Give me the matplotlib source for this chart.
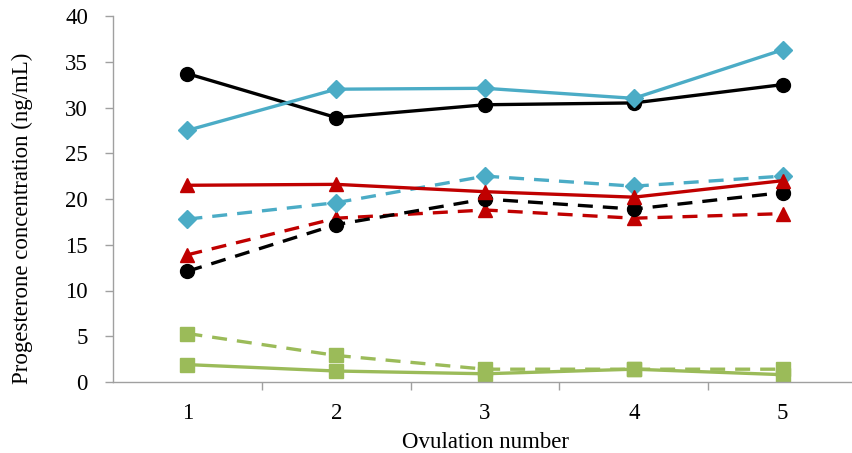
import matplotlib
matplotlib.use("Agg")
import matplotlib.pyplot as plt

ovulation = [1, 2, 3, 4, 5]
black_solid = [33.7, 28.9, 30.3, 30.5, 32.5]
cyan_solid = [27.5, 32.0, 32.1, 31.0, 36.3]
red_solid = [21.5, 21.6, 20.8, 20.2, 22.0]
cyan_dashed = [17.8, 19.6, 22.5, 21.4, 22.5]
black_dashed = [12.1, 17.2, 20.0, 18.9, 20.7]
red_dashed = [13.9, 17.9, 18.8, 17.9, 18.4]
green_dashed = [5.3, 2.9, 1.4, 1.4, 1.4]
green_solid = [1.9, 1.2, 0.9, 1.4, 0.8]
yticks = [0, 5, 10, 15, 20, 25, 30, 35, 40]

plt.rcParams['font.family'] = ['Liberation Serif', 'DejaVu Serif']

fig = plt.figure(figsize=(8.53, 4.53), dpi=100)
ax = fig.add_axes([113/853, 1-382/453, (857-113)/853, (382-16)/453])

BLACK = '#000000'
CYAN = '#4BACC6'
RED = '#C00000'
GREEN = '#9BBB59'
lw = 2.4
dash = (4.5, 3.0)
FS = 16.5

ax.plot(ovulation, green_solid, color=GREEN, lw=lw, marker='s', ms=10)
ax.plot(ovulation, green_dashed, color=GREEN, lw=lw, ls='--', dashes=dash, marker='s', ms=10)
ax.plot(ovulation, red_dashed, color=RED, lw=lw, ls='--', dashes=dash, marker='^', ms=10)
ax.plot(ovulation, black_dashed, color=BLACK, lw=lw, ls='--', dashes=dash, marker='o', ms=10)
ax.plot(ovulation, cyan_dashed, color=CYAN, lw=lw, ls='--', dashes=dash, marker='D', ms=9)
ax.plot(ovulation, red_solid, color=RED, lw=lw, marker='^', ms=10)
ax.plot(ovulation, black_solid, color=BLACK, lw=lw, marker='o', ms=10)
ax.plot(ovulation, cyan_solid, color=CYAN, lw=lw, marker='D', ms=9)

ax.set_xlim(0.5, 5.5)
ax.set_ylim(0, 40)
ax.set_yticks(yticks)
ax.set_xticks(ovulation)
ax.set_xticks([1.5, 2.5, 3.5, 4.5], minor=True)
ax.tick_params(axis='x', which='major', length=0, pad=15, labelsize=FS)
ax.tick_params(axis='x', which='minor', length=6, color='#A0A0A0', width=1)
ax.tick_params(axis='y', length=6, color='#A0A0A0', width=1, pad=12, labelsize=FS)

for s in ['top', 'right']:
    ax.spines[s].set_visible(False)
for s in ['left', 'bottom']:
    ax.spines[s].set_color('#A0A0A0')
    ax.spines[s].set_linewidth(1)
ax.spines['left'].set_bounds(0, 40)

fig.text(486/853, 1-448/453, 'Ovulation number', fontsize=FS, ha='center', va='baseline')
fig.text(0.026, 1-218/453, 'Progesterone concentration (ng/mL)', rotation=90,
         fontsize=FS, ha='center', va='center')

fig.savefig('out.png', dpi=100)
